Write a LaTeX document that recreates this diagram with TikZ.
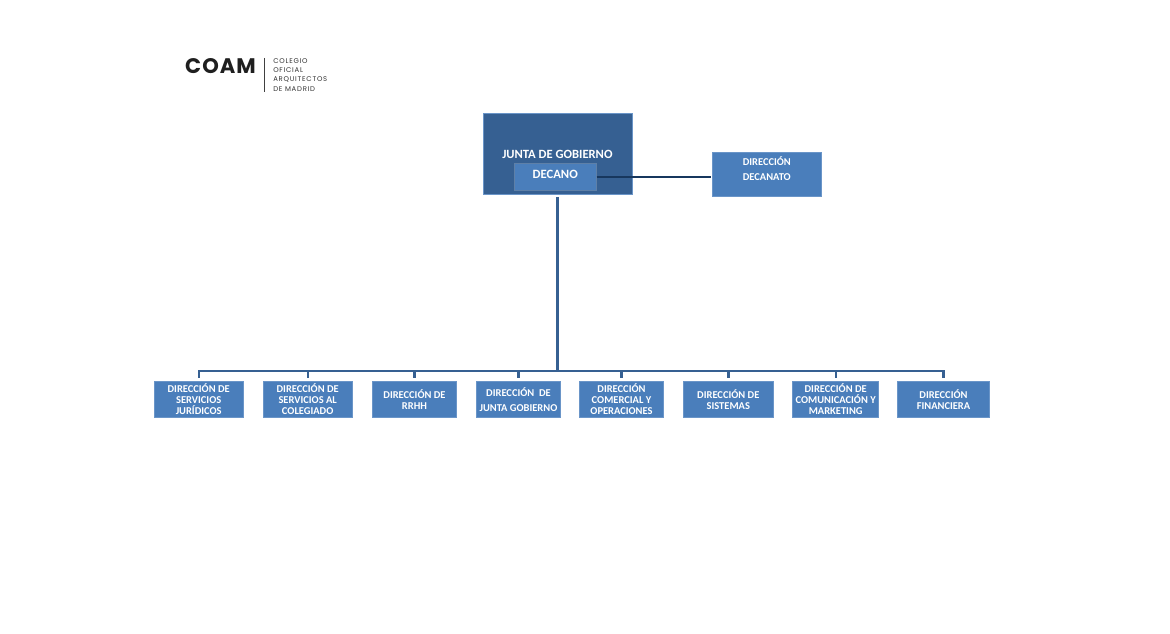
\documentclass[tikz,border=0pt]{standalone}
\usepackage{fontspec}
\setmainfont{Carlito}
\newfontfamily\logofont[LetterSpace=5]{Poppins}
\newfontfamily\logosmall[LetterSpace=11]{Poppins}
\definecolor{dirblue}{HTML}{4A7EBB}
\definecolor{dirline}{HTML}{6A95C8}
\definecolor{jgblue}{HTML}{366092}
\definecolor{navy}{HTML}{17375E}
\tikzset{
  dn/.style={shape=rectangle,draw=dirline,fill=dirblue,line width=0.5pt,inner sep=0pt,align=center,text=white,
    font=\fontsize{7.45}{7.8}\bfseries\selectfont},
  link/.style={draw=jgblue,line width=1.7pt},
}
\begin{document}
\begin{tikzpicture}[x=0.25mm,y=-0.25mm]
    \useasboundingbox (0,0) rectangle (1170,634);

    % logo
    \node[inner sep=0pt,text=black!88] (coam) at (220.5,66) {\logofont\fontsize{15}{15}\fontseries{b}\selectfont COAM};
    \coordinate (ruletop) at (264.5,58);
    \coordinate (rulebot) at (264.5,92);
    \draw[black!75,line width=0.6pt] (ruletop) -- (rulebot);
    \node[inner sep=0pt,anchor=west,text=black!80] (col1) at (273,61) {\logosmall\fontsize{4.9}{5}\selectfont COLEGIO};
    \node[inner sep=0pt,anchor=west,text=black!80] (col2) at (273,70.5) {\logosmall\fontsize{4.9}{5}\selectfont OFICIAL};
    \node[inner sep=0pt,anchor=west,text=black!80] (col3) at (273,80) {\logosmall\fontsize{4.9}{5}\selectfont ARQUITECTOS};
    \node[inner sep=0pt,anchor=west,text=black!80] (col4) at (273,89) {\logosmall\fontsize{4.9}{5}\selectfont DE MADRID};

    % top boxes
    \node[dn,fill=jgblue,minimum width=106pt,minimum height=57.5pt,font=\fontsize{8.95}{10}\bfseries\selectfont] (junta) at (557.4,154) {JUNTA DE GOBIERNO};
    \node[dn,draw=jgblue!80!white,minimum width=58.5pt,minimum height=19.2pt,text height=5pt,text depth=2.6pt,font=\fontsize{9}{10}\bfseries\selectfont] (decano) at (555.2,177) {DECANO};
    \node[dn,minimum width=77.3pt,minimum height=31.2pt] (decanato) at (766.8,174.5) {DIRECCIÓN\\[3.1pt]DECANATO\\[0.5pt]\mbox{}};

    % bottom row
    \node[dn,minimum width=63.7pt,minimum height=26pt] (d1) at (198.7,399.3) {DIRECCIÓN DE\\SERVICIOS\\JURÍDICOS};
    \node[dn,minimum width=63.7pt,minimum height=26pt] (d2) at (307.7,399.3) {DIRECCIÓN DE\\SERVICIOS AL\\COLEGIADO};
    \node[dn,minimum width=59.7pt,minimum height=26pt] (d3) at (414.5,399.3) {DIRECCIÓN DE\\RRHH};
    \node[dn,minimum width=59.7pt,minimum height=26pt] (d4) at (518.5,399.3) {DIRECCIÓN\ \ DE\\[3pt]JUNTA GOBIERNO};
    \node[dn,minimum width=59.7pt,minimum height=26pt] (d5) at (621.5,399.3) {DIRECCIÓN\\COMERCIAL Y\\OPERACIONES};
    \node[dn,minimum width=63.7pt,minimum height=26pt] (d6) at (728.3,399.3) {DIRECCIÓN DE\\SISTEMAS};
    \node[dn,minimum width=61pt,minimum height=26pt] (d7) at (835.7,399.3) {DIRECCIÓN DE\\COMUNICACIÓN Y\\MARKETING};
    \node[dn,minimum width=65pt,minimum height=26pt] (d8) at (943.5,399.3) {DIRECCIÓN\\FINANCIERA};

    % connectors
    \coordinate (bus) at (junta.south |- 0,371);
    \draw[link,shorten <=1.5pt] (junta.south) -- (bus);
    \foreach \d in {d1,d2,d3,d4,d5,d6,d7,d8}
      \draw[link,shorten >=2pt] (bus) -| (\d.north);
    \draw[navy,line width=1.7pt,shorten >=1pt] (decano.east) -- (decano.east -| decanato.west);

  \end{tikzpicture}
\end{document}
